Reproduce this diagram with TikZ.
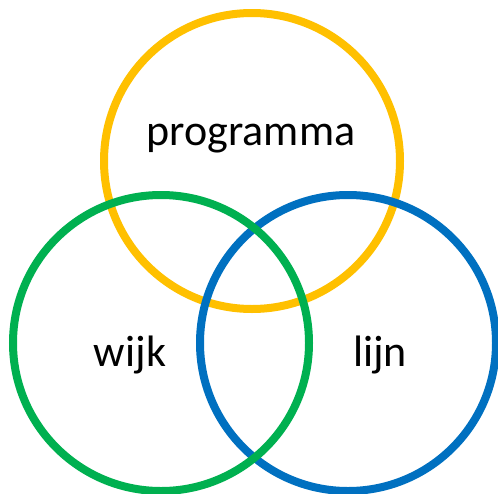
\documentclass[tikz,border=0pt]{standalone}
\usepackage{fontspec}
\setmainfont{Carlito}
\usetikzlibrary{positioning}
\definecolor{progyellow}{HTML}{FFC000}
\definecolor{wijkgreen}{HTML}{00B050}
\definecolor{lijnblue}{HTML}{0070C0}
\tikzset{
  ring/.style={ % style for each of the three circles
    circle,draw,line width=8pt, % drawn as a heavy circle
    inner sep=0pt, % no padding, the circle is empty
    minimum size=296pt, % same size for every circle
  },
  word/.style={ % style for the circle labels
    font=\fontsize{44}{44}\selectfont, % large text
    anchor=base, % place by the baseline
    inner sep=0pt,
  },
}
\begin{document}
\begin{tikzpicture}[x=1pt,y=-1pt]
  \useasboundingbox (0,0) rectangle (498,493);
  \clip (0,0) rectangle (498,493);
  \node[ring, draw=progyellow] (prog) at (252,161) {};
  \node[ring, draw=lijnblue] (lijn) at (348,343) {};
  \node[ring, draw=wijkgreen] (wijk) at (161,343) {};
  \node[word] (progtext) at (251,145) {programma};
  \node[word] (wijktext) at (130,366) {wijk};
  \node[word] (lijntext) at (380,366) {lijn};
\end{tikzpicture}
\end{document}
